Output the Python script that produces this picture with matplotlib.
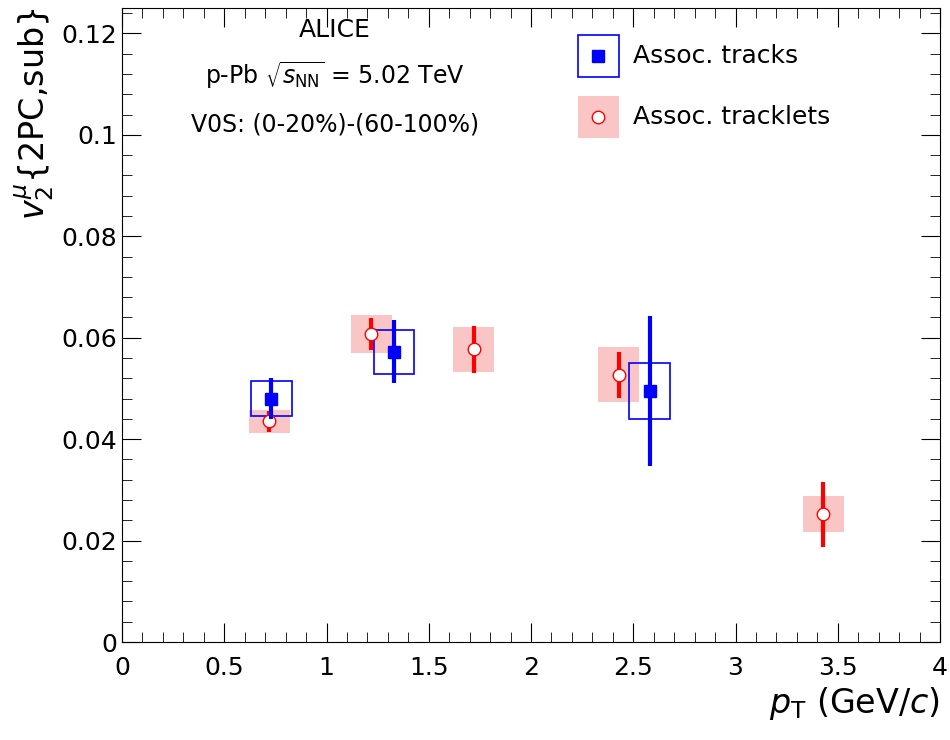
import matplotlib
matplotlib.use("Agg")
import matplotlib.pyplot as plt
from matplotlib.patches import Rectangle
from matplotlib.ticker import MultipleLocator

# Assoc. tracks
trk_x = [0.73, 1.33, 2.58]
trk_y = [0.0480, 0.0572, 0.0495]
trk_stat = [0.0040, 0.0062, 0.0148]
trk_sys = [0.0035, 0.0044, 0.0056]
# Assoc. tracklets
tkl_x = [0.72, 1.22, 1.72, 2.43, 3.43]
tkl_y = [0.0435, 0.0607, 0.0577, 0.0527, 0.0252]
tkl_stat = [0.0020, 0.0032, 0.0047, 0.0045, 0.0064]
tkl_sys = [0.0023, 0.0038, 0.0045, 0.0054, 0.0035]
xticks = [0, 0.5, 1, 1.5, 2, 2.5, 3, 3.5, 4]
xticklabels = ['0', '0.5', '1', '1.5', '2', '2.5', '3', '3.5', '4']
yticks = [0, 0.02, 0.04, 0.06, 0.08, 0.1, 0.12]
yticklabels = ['0', '0.02', '0.04', '0.06', '0.08', '0.1', '0.12']
box_hw = 0.1

fig = plt.figure(figsize=(9.5, 7.4), dpi=100)
ax = fig.add_axes([122/950, 1-642/740, 818/950, 634/740])

for x, y, s in zip(tkl_x, tkl_y, tkl_sys):
    ax.add_patch(Rectangle((x-box_hw, y-s), 2*box_hw, 2*s, facecolor='#f9c5c5', edgecolor='none', zorder=1))
ax.errorbar(tkl_x, tkl_y, yerr=tkl_stat, fmt='o', ms=9, mfc='white', mec='red', ecolor='red', elinewidth=3, capsize=0, zorder=3)
for x, y, s in zip(trk_x, trk_y, trk_sys):
    ax.add_patch(Rectangle((x-box_hw, y-s), 2*box_hw, 2*s, facecolor='none', edgecolor='blue', lw=1.2, zorder=2))
ax.errorbar(trk_x, trk_y, yerr=trk_stat, fmt='s', ms=9, color='blue', elinewidth=3, capsize=0, zorder=4)

ax.set_xticks(xticks)
ax.set_xticklabels(xticklabels)
ax.set_yticks(yticks)
ax.set_yticklabels(yticklabels)
ax.xaxis.set_minor_locator(MultipleLocator(0.1))
ax.yaxis.set_minor_locator(MultipleLocator(0.004))
ax.set_xlim(0, 4)
ax.set_ylim(0, 0.125)
ax.tick_params(which='both', direction='in', top=True, right=True, labelsize=18)
ax.tick_params(axis='x', pad=10)
ax.tick_params(which='major', length=14)
ax.tick_params(which='minor', length=7)
ax.set_xlabel(r'$p_{\rm T}$ (GeV/$c$)', fontsize=24, loc='right')
ax.set_ylabel(r'$v_2^{\mu}$$\{$2PC,sub$\}$', fontsize=24, loc='top')

ax.text(0.26, 0.955, 'ALICE', transform=ax.transAxes, ha='center', fontsize=18)
ax.text(0.26, 0.88, r'p-Pb $\sqrt{s_{\rm NN}}$ = 5.02 TeV', transform=ax.transAxes, ha='center', fontsize=17)
ax.text(0.26, 0.805, 'V0S: (0-20%)-(60-100%)', transform=ax.transAxes, ha='center', fontsize=17)

# legend
lx, ly1, ly2 = 2.33, 0.1155, 0.1035
ax.add_patch(Rectangle((lx-0.1, ly1-0.0042), 0.2, 0.0084, facecolor='none', edgecolor='blue', lw=1.2))
ax.plot([lx], [ly1], 's', ms=9, color='blue')
ax.add_patch(Rectangle((lx-0.1, ly2-0.0042), 0.2, 0.0084, facecolor='#f9c5c5', edgecolor='none'))
ax.plot([lx], [ly2], 'o', ms=9, mfc='white', mec='red')
ax.text(lx+0.17, ly1, 'Assoc. tracks', fontsize=18, va='center')
ax.text(lx+0.17, ly2, 'Assoc. tracklets', fontsize=18, va='center')

fig.savefig('out.png', dpi=100)
